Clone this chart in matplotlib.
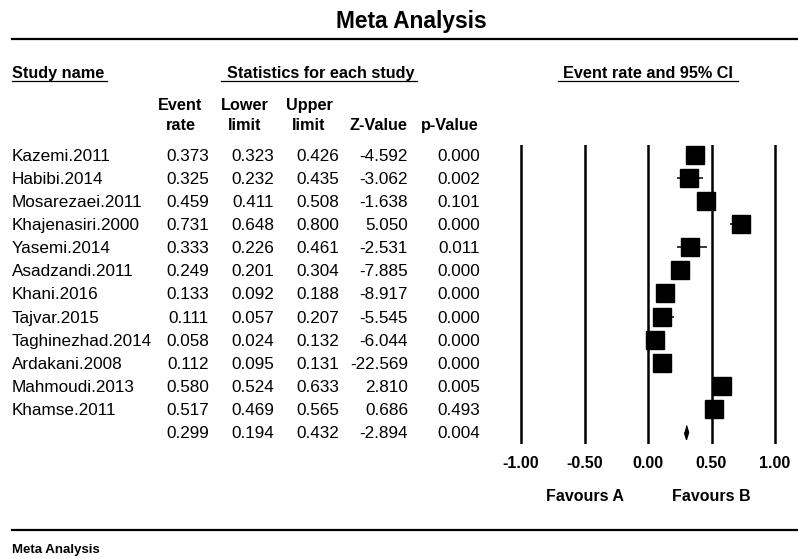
import matplotlib.pyplot as plt
from matplotlib import transforms
from matplotlib.lines import Line2D

plt.rcParams["font.family"] = ["Liberation Sans", "DejaVu Sans"]

# table rows, last row is the pooled estimate
study_names = [
    "Kazemi.2011", "Habibi.2014", "Mosarezaei.2011", "Khajenasiri.2000",
    "Yasemi.2014", "Asadzandi.2011", "Khani.2016", "Tajvar.2015",
    "Taghinezhad.2014", "Ardakani.2008", "Mahmoudi.2013", "Khamse.2011", "",
]
event_rate = [0.373, 0.325, 0.459, 0.731, 0.333, 0.249, 0.133, 0.111, 0.058, 0.112, 0.580, 0.517, 0.299]
lower_limit = [0.323, 0.232, 0.411, 0.648, 0.226, 0.201, 0.092, 0.057, 0.024, 0.095, 0.524, 0.469, 0.194]
upper_limit = [0.426, 0.435, 0.508, 0.800, 0.461, 0.304, 0.188, 0.207, 0.132, 0.131, 0.633, 0.565, 0.432]
z_value = [-4.592, -3.062, -1.638, 5.050, -2.531, -7.885, -8.917, -5.545, -6.044, -22.569, 2.810, 0.686, -2.894]
p_value = [0.000, 0.002, 0.101, 0.000, 0.011, 0.000, 0.000, 0.000, 0.000, 0.000, 0.005, 0.493, 0.004]

x_ticks = [-1.00, -0.50, 0.00, 0.50, 1.00]

W, H = 798, 559


def fx(px):
    return px / W


def fy(py):
    return 1 - py / H


fig = plt.figure(figsize=(W / 100, H / 100), dpi=100)

# forest panel: -1 at px 521, +1 at px 775
ax = fig.add_axes([fx(508.3), fy(444), (787.7 - 508.3) / W, 299 / H])
ax.set_xlim(-1.1, 1.1)
ax.set_ylim(12.52, -0.433)
ax.axis("off")

rows = list(range(len(study_names)))
n = len(study_names) - 1

for t in x_ticks:
    ax.axvline(t, color="black", lw=1.8)

ax.hlines(rows[:n], lower_limit[:n], upper_limit[:n], color="black", lw=1.1)
ax.plot(event_rate[:n], rows[:n], "s", ms=13.3, color="black")
ax.plot(event_rate[n], rows[n], marker=[(0, 1), (0.3, 0), (0, -1), (-0.3, 0)],
        ms=10, color="black", ls="none")

tick_trans = transforms.blended_transform_factory(ax.transData, fig.transFigure)
for t in x_ticks:
    ax.text(t, fy(462), f"{t:.2f}", transform=tick_trans, ha="center", va="center_baseline",
            fontsize=11.5, fontweight="bold")
ax.text(-0.5, fy(495), "Favours A", transform=tick_trans, ha="center", va="center_baseline",
        fontsize=11.5, fontweight="bold")
ax.text(0.5, fy(495), "Favours B", transform=tick_trans, ha="center", va="center_baseline",
        fontsize=11.5, fontweight="bold")

# table text
row_trans = transforms.blended_transform_factory(fig.transFigure, ax.transData)
body = dict(transform=row_trans, va="center_baseline", fontsize=12.3)
for i in rows:
    ax.text(fx(12), i, study_names[i], ha="left", **body)
    ax.text(fx(209), i, f"{event_rate[i]:.3f}", ha="right", **body)
    ax.text(fx(274), i, f"{lower_limit[i]:.3f}", ha="right", **body)
    ax.text(fx(339), i, f"{upper_limit[i]:.3f}", ha="right", **body)
    ax.text(fx(408), i, f"{z_value[i]:.3f}", ha="right", **body)
    ax.text(fx(480), i, f"{p_value[i]:.3f}", ha="right", **body)

# headers
fig.text(fx(411), fy(19), "Meta Analysis", ha="center", va="center_baseline",
         fontsize=16.4, fontweight="bold")
head = dict(va="center_baseline", fontsize=11.7, fontweight="bold")
fig.text(fx(12), fy(72), "Study name", ha="left", **head)
fig.text(fx(321), fy(72), "Statistics for each study", ha="center", **head)
fig.text(fx(648), fy(72), "Event rate and 95% CI", ha="center", **head)
fig.text(fx(180.5), fy(104), "Event", ha="center", **head)
fig.text(fx(180.5), fy(124), "rate", ha="center", **head)
fig.text(fx(245), fy(104), "Lower", ha="center", **head)
fig.text(fx(245), fy(124), "limit", ha="center", **head)
fig.text(fx(309), fy(104), "Upper", ha="center", **head)
fig.text(fx(309), fy(124), "limit", ha="center", **head)
fig.text(fx(378.5), fy(124), "Z-Value", ha="center", **head)
fig.text(fx(449.5), fy(124), "p-Value", ha="center", **head)

# rules and underlines
for x0, x1, y, lw in [(12, 798, 39, 1.6), (12, 107, 81, 0.9), (221, 417, 81, 0.9),
                      (558, 738, 81, 0.9), (12, 798, 530, 1.6)]:
    fig.add_artist(Line2D([fx(x0), fx(x1)], [fy(y), fy(y)], transform=fig.transFigure,
                          color="black", lw=lw))

fig.text(fx(12), fy(548), "Meta Analysis", ha="left", va="center_baseline", fontsize=9.5,
         fontweight="bold", family=["Liberation Sans Narrow", "Liberation Sans"])

fig.savefig("out.png", dpi=100)
